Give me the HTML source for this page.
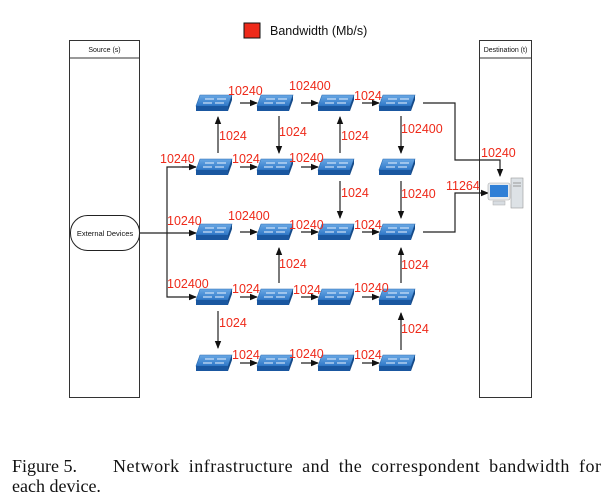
<!DOCTYPE html>
<html><head><style>
body{margin:0;background:#fff;}
svg{display:block;}
.l{fill:#ee2a1a;font-family:"Liberation Sans",sans-serif;font-size:12.5px;}
.k{stroke:#222;stroke-width:1.2;fill:none;}
</style></head><body>
<svg width="614" height="501" viewBox="0 0 614 501" xmlns="http://www.w3.org/2000/svg">
<defs>
<marker id="a" markerWidth="8" markerHeight="8" refX="7" refY="4" orient="auto" markerUnits="userSpaceOnUse">
<path d="M0,0.8 L8,4 L0,7.2 z" fill="#111"/></marker>
<linearGradient id="tg" x1="0" y1="0" x2="0" y2="1"><stop offset="0" stop-color="#6aa8e4"/><stop offset="1" stop-color="#2f78c8"/></linearGradient>
<g id="s">
<polygon points="-14,-8 18,-8 14,3 -18,3" fill="url(#tg)" stroke="#2a6db4" stroke-width="0.6"/>
<polygon points="-18,3 14,3 14,8 -18,8" fill="#1a57a0"/>
<polygon points="14,3 18,-8 18,-3 14,8" fill="#154a88"/>
<path d="M-9,-4 h9 M3,-4 h9 M-11,0 h9 M1,0 h9" stroke="#e8f2ff" stroke-width="1"/>
</g>
</defs>
<rect x="244" y="23" width="16" height="15" fill="#ee2a1a" stroke="#111" stroke-width="1"/>
<text x="270" y="35" font-family="Liberation Sans,sans-serif" font-size="12.5" fill="#111">Bandwidth (Mb/s)</text>
<rect x="69.5" y="40.5" width="70" height="357" fill="none" stroke="#333" stroke-width="1"/>
<line x1="69.5" y1="58" x2="139.5" y2="58" stroke="#333"/>
<text x="104.5" y="52" text-anchor="middle" font-family="Liberation Sans,sans-serif" font-size="7" fill="#111">Source (s)</text>
<rect x="479.5" y="40.5" width="52" height="357" fill="none" stroke="#333" stroke-width="1"/>
<line x1="479.5" y1="58" x2="531.5" y2="58" stroke="#333"/>
<text x="505.5" y="52" text-anchor="middle" font-family="Liberation Sans,sans-serif" font-size="7" fill="#111">Destination (t)</text>
<rect x="70.5" y="215.5" width="69" height="35" rx="17" fill="#fff" stroke="#222"/>
<text x="105" y="236" text-anchor="middle" font-family="Liberation Sans,sans-serif" font-size="7.5" fill="#111">External Devices</text>
<path class="k" d="M140,233 H196" marker-end="url(#a)"/>
<path class="k" d="M196,167 H167 V297 H196" marker-end="url(#a)"/>
<path class="k" d="M182,167 H196" marker-end="url(#a)"/>
<g class="k">
<path d="M240,103H257" marker-end="url(#a)"/><path d="M301,103H318" marker-end="url(#a)"/><path d="M362,103H379" marker-end="url(#a)"/>
<path d="M240,167H257" marker-end="url(#a)"/><path d="M301,167H318" marker-end="url(#a)"/>
<path d="M240,232H257" marker-end="url(#a)"/><path d="M301,232H318" marker-end="url(#a)"/><path d="M362,232H379" marker-end="url(#a)"/>
<path d="M240,297H257" marker-end="url(#a)"/><path d="M301,297H318" marker-end="url(#a)"/><path d="M362,297H379" marker-end="url(#a)"/>
<path d="M240,363H257" marker-end="url(#a)"/><path d="M301,363H318" marker-end="url(#a)"/><path d="M362,363H379" marker-end="url(#a)"/>
<path d="M218,153V117" marker-end="url(#a)"/><path d="M279,116V153" marker-end="url(#a)"/><path d="M340,153V117" marker-end="url(#a)"/><path d="M401,116V153" marker-end="url(#a)"/>
<path d="M340,181V218" marker-end="url(#a)"/><path d="M401,181V218" marker-end="url(#a)"/>
<path d="M279,283V248" marker-end="url(#a)"/><path d="M401,283V248" marker-end="url(#a)"/>
<path d="M218,311V348" marker-end="url(#a)"/><path d="M401,350V313" marker-end="url(#a)"/>
<path d="M423,103H455V160H500V176" marker-end="url(#a)"/>
<path d="M423,232H455V193H488" marker-end="url(#a)"/>
</g>
<use href="#s" x="214" y="103"/><use href="#s" x="275" y="103"/><use href="#s" x="336" y="103"/><use href="#s" x="397" y="103"/>
<use href="#s" x="214" y="167"/><use href="#s" x="275" y="167"/><use href="#s" x="336" y="167"/><use href="#s" x="397" y="167"/>
<use href="#s" x="214" y="232"/><use href="#s" x="275" y="232"/><use href="#s" x="336" y="232"/><use href="#s" x="397" y="232"/>
<use href="#s" x="214" y="297"/><use href="#s" x="275" y="297"/><use href="#s" x="336" y="297"/><use href="#s" x="397" y="297"/>
<use href="#s" x="214" y="363"/><use href="#s" x="275" y="363"/><use href="#s" x="336" y="363"/><use href="#s" x="397" y="363"/>
<rect x="511" y="178" width="12" height="30" fill="#dde2e6" stroke="#999" stroke-width="0.6"/>
<line x1="513" y1="183" x2="521" y2="183" stroke="#999"/><line x1="513" y1="186" x2="521" y2="186" stroke="#999"/>
<rect x="488" y="183" width="22" height="17" rx="2" fill="#e6eaee" stroke="#aaa" stroke-width="0.6"/>
<rect x="490" y="185" width="18" height="12" fill="#2f7fd6"/>
<rect x="493" y="201" width="12" height="4" fill="#d8dde2" stroke="#aaa" stroke-width="0.5"/>
<g class="l">
<text x="228" y="95">10240</text><text x="289" y="90">102400</text><text x="354" y="100">1024</text>
<text x="219" y="140">1024</text><text x="279" y="136">1024</text><text x="341" y="140">1024</text><text x="401" y="133">102400</text>
<text x="160" y="163">10240</text><text x="232" y="163">1024</text><text x="289" y="162">10240</text>
<text x="341" y="197">1024</text><text x="401" y="198">10240</text>
<text x="167" y="225">10240</text><text x="228" y="220">102400</text><text x="289" y="229">10240</text><text x="354" y="229">1024</text>
<text x="279" y="268">1024</text><text x="401" y="269">1024</text>
<text x="167" y="288">102400</text><text x="232" y="293">1024</text><text x="293" y="294">1024</text><text x="354" y="292">10240</text>
<text x="219" y="327">1024</text><text x="401" y="333">1024</text>
<text x="232" y="359">1024</text><text x="289" y="358">10240</text><text x="354" y="359">1024</text>
<text x="481" y="157">10240</text><text x="446" y="190">11264</text>
</g>
<text x="12" y="472" font-family="Liberation Serif,serif" font-size="18" fill="#111">Figure 5.</text>
<text x="113" y="472" font-family="Liberation Serif,serif" font-size="18" fill="#111" textLength="488" lengthAdjust="spacing" word-spacing="4">Network infrastructure and the correspondent bandwidth for</text>
<text x="12" y="492" font-family="Liberation Serif,serif" font-size="18" fill="#111">each device.</text>
</svg>
</body></html>
